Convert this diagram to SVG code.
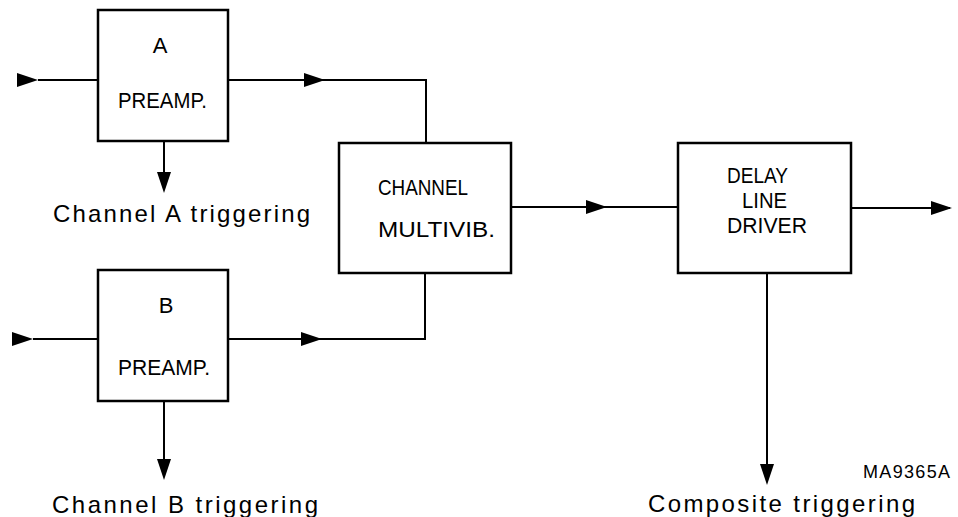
<svg xmlns="http://www.w3.org/2000/svg" width="958" height="517" viewBox="0 0 958 517">
<style>
.box{fill:#fff;stroke:#000;stroke-width:2.5}
.ln{fill:none;stroke:#000;stroke-width:2}
.t{font-family:"Liberation Sans","DejaVu Sans",sans-serif;font-size:22px;fill:#000}
.s{font-family:"Liberation Sans","DejaVu Sans",sans-serif;font-size:24px;fill:#000}
.m{font-family:"Liberation Sans","DejaVu Sans",sans-serif;font-size:18px;fill:#000}
</style>
<defs>
<path id="ah" d="M0,0 L-21,-7 L-21,7 Z" fill="#000"/>
</defs>
<rect width="958" height="517" fill="#fff"/>
<g id="connectors">
<path class="ln" d="M38,80 H98"/>
<path class="ln" d="M228,80 H426 V143"/>
<path class="ln" d="M164,141 V190"/>
<path class="ln" d="M33,339 H98"/>
<path class="ln" d="M228,339 H425 V273"/>
<path class="ln" d="M164,401 V477"/>
<path class="ln" d="M511,207 H678"/>
<path class="ln" d="M851,208 H950"/>
<path class="ln" d="M767,273 V482"/>
<use href="#ah" transform="translate(38,80)"/>
<use href="#ah" transform="translate(325,80)"/>
<use href="#ah" transform="translate(164,193) rotate(90)"/>
<use href="#ah" transform="translate(33,339)"/>
<use href="#ah" transform="translate(322,339)"/>
<use href="#ah" transform="translate(164,480) rotate(90)"/>
<use href="#ah" transform="translate(607,207)"/>
<use href="#ah" transform="translate(952,208)"/>
<use href="#ah" transform="translate(767,485) rotate(90)"/>
</g>
<g id="preampA">
<rect class="box" x="98" y="10" width="130" height="131"/>
<text class="t" x="160" y="53" text-anchor="middle">A</text>
<text class="t" x="118" y="108" textLength="89" lengthAdjust="spacingAndGlyphs">PREAMP.</text>
</g>
<g id="preampB">
<rect class="box" x="98" y="270" width="130" height="131"/>
<text class="t" x="166" y="313" text-anchor="middle">B</text>
<text class="t" x="118" y="375" textLength="92" lengthAdjust="spacingAndGlyphs">PREAMP.</text>
</g>
<g id="multivib">
<rect class="box" x="339" y="143" width="172" height="130"/>
<text class="t" x="378" y="195" textLength="90" lengthAdjust="spacingAndGlyphs">CHANNEL</text>
<text class="t" x="378" y="237" textLength="117" lengthAdjust="spacingAndGlyphs">MULTIVIB.</text>
</g>
<g id="delay">
<rect class="box" x="678" y="143" width="173" height="130"/>
<text class="t" x="727" y="183" textLength="61" lengthAdjust="spacingAndGlyphs">DELAY</text>
<text class="t" x="742" y="208" textLength="45" lengthAdjust="spacingAndGlyphs">LINE</text>
<text class="t" x="727" y="233" textLength="80" lengthAdjust="spacingAndGlyphs">DRIVER</text>
</g>
<g id="labels">
<text class="s" x="53" y="222" textLength="257" lengthAdjust="spacing">Channel A triggering</text>
<text class="s" x="52" y="513" textLength="266" lengthAdjust="spacing">Channel B triggering</text>
<text class="s" x="648" y="512" textLength="267" lengthAdjust="spacing">Composite triggering</text>
<text class="m" x="863" y="478" textLength="87" lengthAdjust="spacing">MA9365A</text>
</g>
</svg>
